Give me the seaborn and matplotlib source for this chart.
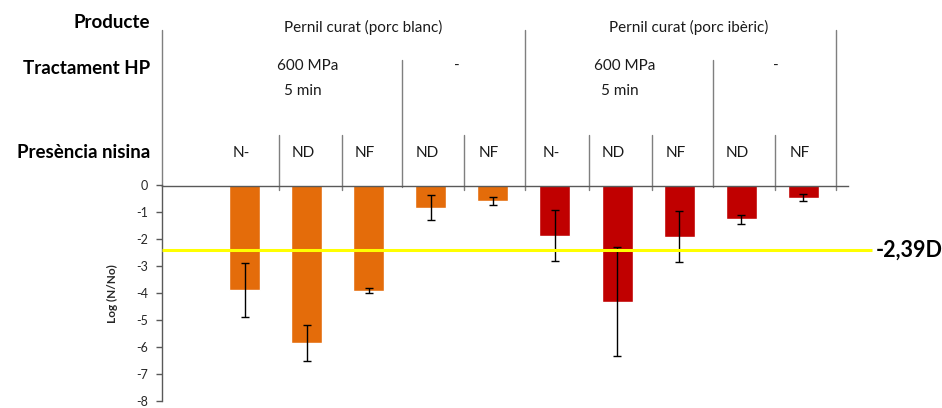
import matplotlib
matplotlib.use("Agg")
import matplotlib.pyplot as plt
import matplotlib.transforms as mtransforms
import pandas as pd
import seaborn as sns

# ---- data ----
products = ["Pernil curat (porc blanc)"] * 5 + ["Pernil curat (porc ibèric)"] * 5
hp_treatment = ["600 MPa\n5 min"] * 3 + ["-"] * 2 + ["600 MPa\n5 min"] * 3 + ["-"] * 2
nisin = ["N-", "ND", "NF", "ND", "NF", "N-", "ND", "NF", "ND", "NF"]
log_reduction = [-3.89, -5.85, -3.90, -0.83, -0.58, -1.86, -4.31, -1.90, -1.26, -0.45]
error = [1.00, 0.66, 0.08, 0.46, 0.15, 0.96, 2.03, 0.95, 0.18, 0.12]
threshold = -2.39
threshold_label = "-2,39D"
yticks = list(range(0, -9, -1))

colors = {"Pernil curat (porc blanc)": "#E46C0A", "Pernil curat (porc ibèric)": "#C00000"}

df = pd.DataFrame({
    "id": [f"c{i}" for i in range(len(nisin))],
    "Producte": products,
    "HP": hp_treatment,
    "Nisina": nisin,
    "logNN0": log_reduction,
    "err": error,
})

sns.set_theme(style="white")
plt.rcParams["font.family"] = ["Lato", "DejaVu Sans"]

AX_TOP, AX_BOT = 185.5, 401.0
fig = plt.figure(figsize=(9.42, 4.08), dpi=100)
ax = fig.add_axes([162 / 942, 1 - AX_BOT / 408, (848 - 162) / 942, (AX_BOT - AX_TOP) / 408])

sns.barplot(data=df, x="id", y="logNN0", hue="Producte", palette=colors,
            dodge=False, width=0.5, legend=False, ax=ax, saturation=1)
ax.errorbar(range(len(df)), df["logNN0"], yerr=df["err"], fmt="none",
            ecolor="black", elinewidth=1, capsize=3, capthick=1, zorder=3)

ax.set_xlim(-1.33, 9.72)
ax.set_ylim(-8, 0)
ax.set_yticks(yticks)
ax.set_yticklabels([str(t) for t in yticks], fontsize=9, color="#262626")
ax.set_xticks([])
ax.set_xlabel("")
ax.set_ylabel("Log (N/No)", fontsize=8.5, fontweight="bold", labelpad=13)
ax.tick_params(axis="y", direction="out", length=4, width=1, color="#595959", pad=6, left=True)

for side in ["right", "bottom"]:
    ax.spines[side].set_visible(False)
ax.spines["left"].set_color("#595959")
ax.spines["top"].set_color("#595959")
ax.spines["left"].set_linewidth(1)
ax.spines["top"].set_linewidth(1)

# threshold line, running past the plot area towards its label
ax.plot([-1.33, 10.1], [threshold, threshold], color="#FFFF00", lw=2.2,
        clip_on=False, zorder=4, solid_capstyle="butt")
ax.text(10.17, threshold, threshold_label, fontsize=15.5, fontweight="bold",
        va="center", ha="left", clip_on=False, color="black")

# ---- header table above the bars ----
trans = mtransforms.blended_transform_factory(ax.transData, ax.transAxes)


def ya(ypx):
    return 1 + (AX_TOP - ypx) / (AX_BOT - AX_TOP)


line_kw = dict(color="#7f7f7f", lw=1, clip_on=False, transform=trans)
# left border of the table
ax.plot([-1.33, -1.33], [ya(30), 1], **line_kw)
# product boundaries
for xd in [4.52, 9.53]:
    ax.plot([xd, xd], [ya(30), ya(190)], **line_kw)
# treatment boundaries
for xd in [2.53, 7.54]:
    ax.plot([xd, xd], [ya(60), ya(187)], **line_kw)
# nisin boundaries
for xd in [0.55, 1.57, 3.54, 5.55, 6.56, 8.55]:
    ax.plot([xd, xd], [ya(135), ya(190)], **line_kw)

hdr_kw = dict(transform=trans, ha="center", va="center", fontsize=11, color="#1a1a1a", clip_on=False)
ax.text(1.91, ya(27), products[0], **hdr_kw)
ax.text(7.15, ya(27), products[5], **hdr_kw)
for xc, grp in [(0.98, hp_treatment[0]), (3.42, hp_treatment[3]),
                (6.08, hp_treatment[5]), (8.56, hp_treatment[8])]:
    if "\n" in grp:
        l1, l2 = grp.split("\n")
        ax.text(xc + 0.04, ya(66), l1, **hdr_kw)
        ax.text(xc - 0.04, ya(91), l2, **hdr_kw)
    else:
        ax.text(xc, ya(66), grp, **hdr_kw)
for i, lab in enumerate(nisin):
    ax.text(i - 0.06, ya(153), lab, **hdr_kw)

row_kw = dict(ha="right", va="center", fontsize=13.5, fontweight="bold", color="black")
fig.text(150 / 942, 1 - 23 / 408, "Producte", **row_kw)
fig.text(150 / 942, 1 - 69 / 408, "Tractament HP", **row_kw)
fig.text(150 / 942, 1 - 152 / 408, "Presència nisina", **row_kw)

fig.savefig("out.png", dpi=100)
